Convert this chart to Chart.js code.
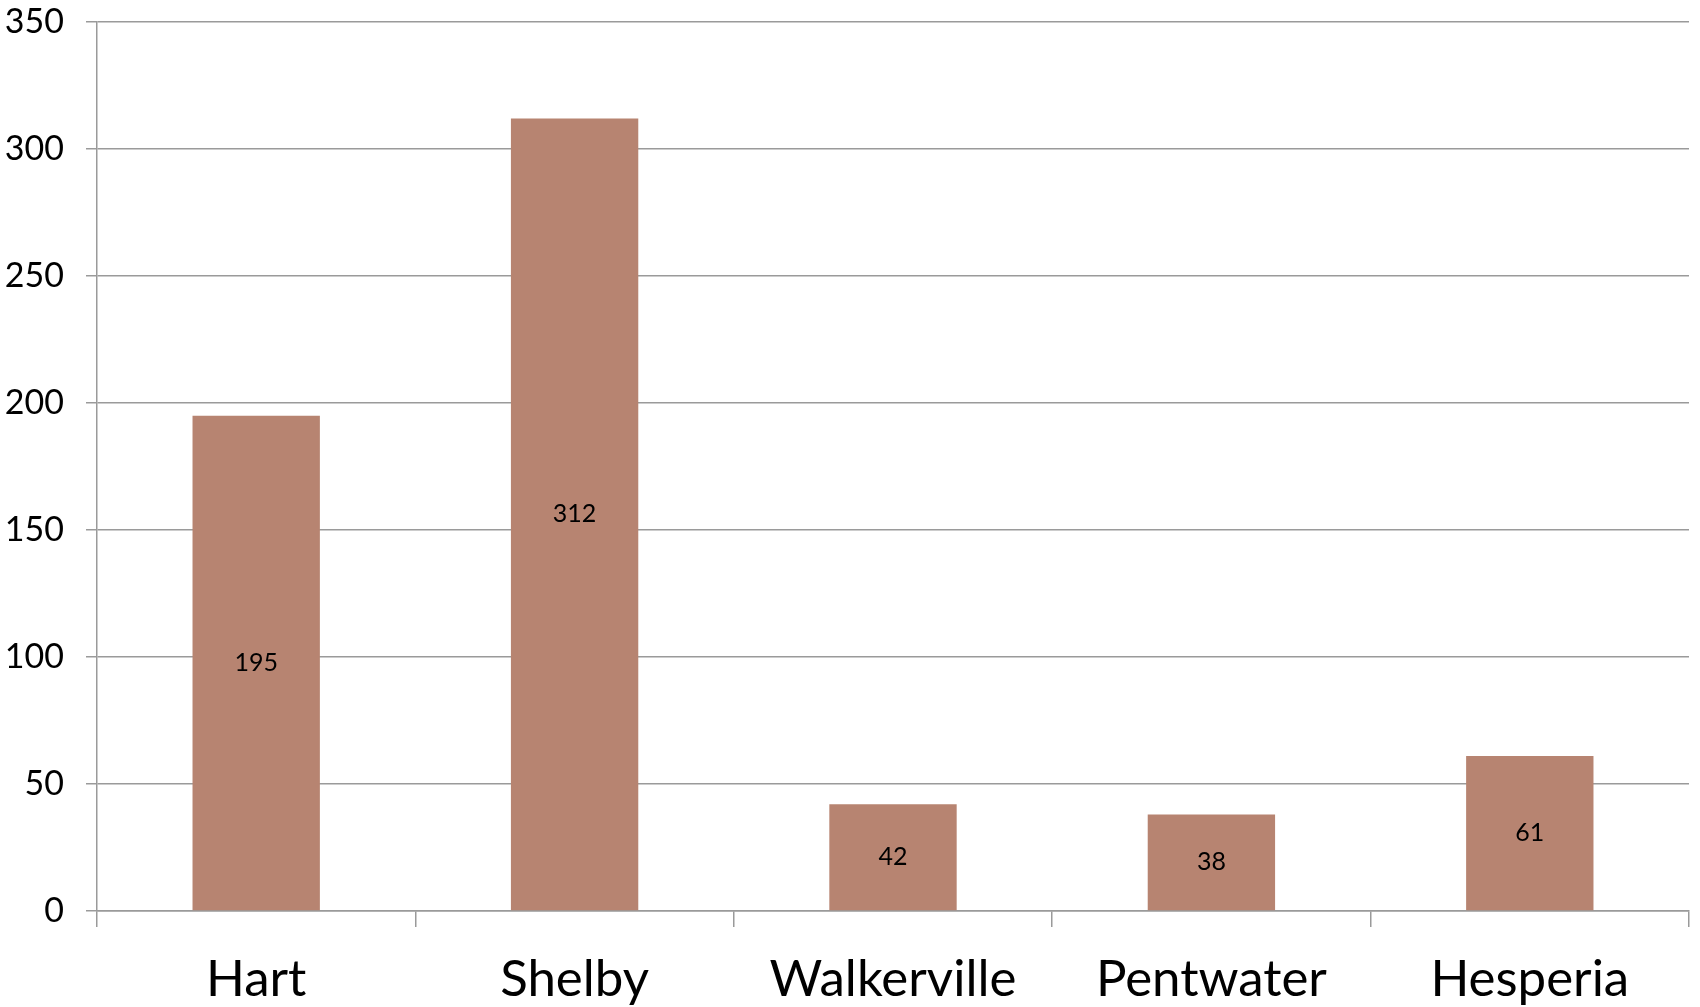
<!DOCTYPE html>
<html>
<head>
<meta charset="utf-8">
<script src="https://cdn.jsdelivr.net/npm/chart.js@4/dist/chart.umd.min.js"></script>
<style>
html,body{margin:0;padding:0;background:#fff;}
#wrap{width:1700px;height:1007px;}
</style>
</head>
<body>
<div id="wrap"><canvas id="c" width="1700" height="1007"></canvas></div>
<script>
const categories = ["Hart", "Shelby", "Walkerville", "Pentwater", "Hesperia"];
const values = [195, 312, 42, 38, 61];
const yTicks = [0, 50, 100, 150, 200, 250, 300, 350];

const FONT = "Lato, 'Open Sans', sans-serif";
const barColor = "#b78471";
const gridColor = "#9a9a9a";

const labelPlugin = {
  id: 'inBarLabels',
  afterDatasetsDraw(chart) {
    const ctx = chart.ctx;
    const meta = chart.getDatasetMeta(0);
    ctx.save();
    ctx.font = "25px " + FONT;
    ctx.fillStyle = "#000";
    ctx.textAlign = "center";
    ctx.textBaseline = "middle";
    meta.data.forEach((el, i) => {
      const p = el.getProps(['x', 'y', 'base'], true);
      ctx.fillText(String(values[i]), p.x, (p.y + p.base) / 2);
    });
    ctx.restore();
  }
};

new Chart(document.getElementById('c'), {
  type: 'bar',
  data: {
    labels: categories,
    datasets: [{
      data: values,
      backgroundColor: barColor,
      borderWidth: 0,
      barPercentage: 0.4,
      categoryPercentage: 1.0
    }]
  },
  options: {
    responsive: false,
    animation: false,
    devicePixelRatio: 1,
    layout: { padding: { top: 22, right: 11, bottom: 0, left: 0 } },
    plugins: { legend: { display: false }, tooltip: { enabled: false } },
    scales: {
      x: {
        offset: true,
        grid: {
          offset: true,
          drawOnChartArea: false,
          drawTicks: true,
          tickLength: 16,
          color: gridColor,
          lineWidth: 1.5
        },
        border: { display: true, color: gridColor, width: 1.5 },
        ticks: {
          font: { family: FONT, size: 51 },
          color: "#000",
          padding: 22,
          maxRotation: 0,
          autoSkip: false
        },
        afterFit(scale) { scale.height = 96; scale.paddingLeft = 0; scale.paddingRight = 0; }
      },
      y: {
        min: 0,
        max: 350,
        afterBuildTicks(scale) { scale.ticks = yTicks.map(v => ({ value: v })); },
        grid: {
          color: gridColor,
          lineWidth: 1.5,
          drawTicks: true,
          tickLength: 11
        },
        border: { display: true, color: gridColor, width: 1.5 },
        ticks: {
          font: { family: FONT, size: 34 },
          color: "#000",
          padding: 22
        },
        afterFit(scale) { scale.width = 97; scale.paddingTop = 0; scale.paddingBottom = 0; }
      }
    }
  },
  plugins: [labelPlugin]
});
</script>
</body>
</html>
